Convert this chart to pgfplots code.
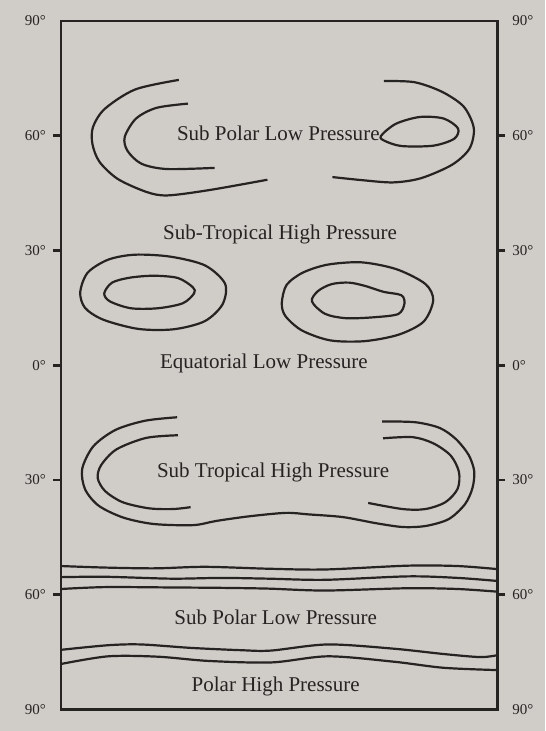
\documentclass[border=0pt]{standalone}
\usepackage{fontspec}
\setmainfont{Liberation Serif}
\usepackage{pgfplots}
\pgfplotsset{compat=1.18}
\pgfdeclarelayer{background}
\pgfsetlayers{background,main}
\definecolor{paper}{RGB}{208,204,199}
\definecolor{ink}{RGB}{38,35,35}
\tikzset{lab/.style={font=\fontsize{10.5}{12}\selectfont, text=ink}}
\begin{document}
\begin{tikzpicture}
\pgfplotsset{
  base/.style={
    width=218pt, height=344pt, scale only axis,
    xmin=0, xmax=100, ymin=-90, ymax=90,
    xtick=\empty,
    ytick={-60,-30,0,30,60},
    yticklabels={60°,30°,0°,30°,60°},
    extra y ticks={-90,90},
    extra y tick labels={90°,90°},
    extra y tick style={tick style={draw=none}},
    tick align=outside, major tick length=4pt,
    axis line style={ink, line width=1.4pt},
    tick style={ink, line width=1.3pt},
    yticklabel style={font=\fontsize{7.5}{9}\selectfont, text=ink},
  },
  iso/.style={ink, line width=1.1pt, smooth, no markers},
}
\begin{axis}[base, name=ax, ytick pos=left, yticklabel pos=left]
% northern sub polar low
\addplot[iso] coordinates {(27.0,74.6) (17.0,72.1) (10.0,67.0) (7.3,62.2) (7.2,57.8) (8.8,53.2) (13.0,48.7) (19.6,45.3) (24.4,44.4) (34.0,45.8) (47.3,48.5)};
\addplot[iso] coordinates {(29.1,68.4) (21.9,67.3) (17.2,64.5) (14.6,59.7) (15.2,56.1) (18.4,52.7) (24.2,51.3) (35.2,51.6)};
\addplot[iso] coordinates {(74.0,74.3) (81.0,74.0) (87.3,71.5) (92.3,67.6) (94.6,62.0) (93.6,56.6) (89.6,52.4) (82.5,48.9) (76.1,47.8) (68.9,48.4) (62.2,49.2)};
\addplot[iso, smooth cycle] coordinates {(73.3,59.9) (76.7,63.1) (82.2,64.9) (87.7,64.5) (91.0,61.9) (90.1,59.2) (85.3,57.4) (78.1,57.3) (74.3,58.6)};
% equatorial ovals
\addplot[iso, smooth cycle] coordinates {(4.4,19.1) (6.1,24.2) (10.8,27.6) (16.9,28.9) (25.0,28.4) (33.0,26.1) (37.6,21.3) (37.0,15.9) (32.9,11.5) (25.8,9.4) (17.7,9.5) (9.7,11.9) (5.5,15.0)};
\addplot[iso, smooth cycle] coordinates {(9.9,18.8) (11.7,21.6) (15.8,22.9) (21.3,23.4) (26.8,22.8) (30.2,20.4) (30.5,18.8) (27.9,16.2) (22.2,14.9) (16.0,14.9) (11.2,16.7)};
\addplot[iso, smooth cycle] coordinates {(50.6,16.3) (51.7,21.0) (55.4,24.2) (61.1,26.3) (68.9,26.9) (76.9,25.1) (83.5,21.25) (85.3,17.0) (83.1,11.4) (77.4,8.0) (69.6,6.3) (61.7,6.5) (55.2,9.1) (51.4,12.9)};
\addplot[iso, smooth cycle] coordinates {(57.5,16.7) (58.9,19.4) (62.0,21.2) (66.0,21.6) (69.8,20.7) (73.9,19.2) (78.0,18.3) (78.7,16.1) (77.3,13.4) (71.8,12.55) (65.3,12.3) (60.5,13.45)};
% southern sub tropical high
\addplot[iso] coordinates {(26.6,-13.6) (19.3,-14.5) (12.5,-16.9) (7.4,-21.2) (4.85,-27.1) (5.5,-32.4) (8.6,-36.7) (14.2,-39.8) (21.2,-41.5) (30.3,-41.8) (35.6,-40.7) (43.1,-39.5) (51.5,-38.6) (56.8,-39.0) (64.6,-39.7) (72.2,-41.3) (78.4,-42.3) (83.7,-42.0) (88.9,-40.2) (92.6,-36.3) (94.3,-32.1) (94.7,-27.7) (93.4,-23.4) (90.5,-19.3) (86.8,-16.4) (81.2,-14.9) (73.6,-14.7)};
\addplot[iso] coordinates {(26.8,-18.3) (19.5,-19.0) (12.7,-22.0) (9.2,-26.1) (8.4,-29.5) (10.1,-32.9) (14.1,-35.8) (20.1,-37.4) (25.6,-37.6) (29.7,-37.1)};
\addplot[iso] coordinates {(73.8,-19.1) (80.6,-18.8) (85.3,-20.4) (89.3,-23.6) (91.2,-27.9) (90.9,-32.3) (88.1,-35.8) (83.5,-37.6) (78.3,-37.6) (70.4,-36.0)};
% southern bands
\addplot[iso] coordinates {(0,-52.5) (10.2,-52.9) (21.6,-53.1) (33.0,-52.7) (47.5,-53.2) (60.5,-53.4) (79.5,-52.4) (90.9,-52.5) (100,-53.3)};
\addplot[iso] coordinates {(0,-55.4) (10.2,-55.3) (25.3,-55.8) (36.7,-55.6) (47.5,-55.8) (60.5,-56.1) (79.5,-55.2) (90.9,-55.6) (100,-56.4)};
\addplot[iso] coordinates {(0,-58.5) (10.2,-58.0) (25.3,-58.1) (36.7,-58.2) (47.5,-58.4) (60.5,-58.9) (79.5,-58.3) (90.9,-58.5) (100,-59.2)};
\addplot[iso] coordinates {(0,-74.4) (10.8,-73.2) (18.4,-73.0) (29.8,-73.9) (41.3,-74.5) (48.1,-74.6) (61.1,-73.0) (76.2,-74.1) (87.7,-75.5) (96.1,-76.3) (100,-75.8)};
\addplot[iso] coordinates {(0,-78.1) (10.8,-76.1) (22.2,-76.2) (33.7,-77.3) (48.2,-77.7) (61.2,-76.1) (76.2,-77.5) (87.7,-79.1) (100,-79.7)};
% labels
\node[lab] at (axis cs:49.8,60.6) {Sub Polar Low Pressure};
\node[lab] at (axis cs:50.2,34.1) {Sub-Tropical High Pressure};
\node[lab] at (axis cs:46.5,0.5) {Equatorial Low Pressure};
\node[lab] at (axis cs:48.6,-28.0) {Sub Tropical High Pressure};
\node[lab] at (axis cs:49.2,-65.9) {Sub Polar Low Pressure};
\node[lab] at (axis cs:49.2,-83.9) {Polar High Pressure};
\end{axis}
\begin{axis}[base, at={(ax.south west)}, anchor=south west, ytick pos=right, yticklabel pos=right]
\end{axis}
\begin{pgfonlayer}{background}
\fill[paper] ([shift={(-30.5pt,-10.75pt)}]ax.south west) rectangle ([shift={(24pt,10.5pt)}]ax.north east);
\end{pgfonlayer}
\end{tikzpicture}
\end{document}
